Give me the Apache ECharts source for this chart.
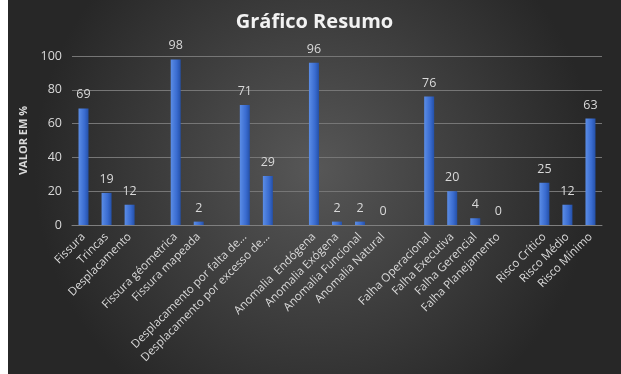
<!DOCTYPE html>
<html><head><meta charset="utf-8">
<script src="https://cdn.jsdelivr.net/npm/echarts@6/dist/echarts.min.js"></script>
<style>html,body{margin:0;padding:0;background:#fff;}#c{position:absolute;left:8px;top:0;width:613px;height:374px;}</style>
</head><body><div id="c"></div>
<script>
const categories = ["Fissura","Trincas","Desplacamento","","Fissura géometrica","Fissura mapeada","","Desplacamento por falta de...","Desplacamento por excesso de...","","Anomalia  Endógena","Anomalia Exógena","Anomalia Funcional","Anomalia Natural","","Falha Operacional","Falha Executiva","Falha Gerencial","Falha Planejamento","","Risco Crítico","Risco Médio","Risco Mínimo"];
const values = [69,19,12,null,98,2,null,71,29,null,96,2,2,0,null,76,20,4,0,null,25,12,63];
const yTicks = [0,20,40,60,80,100];

const chart = echarts.init(document.getElementById('c'));
chart.setOption({
  backgroundColor: new echarts.graphic.RadialGradient(0.5,0.45,0.75,[{offset:0,color:'#575757'},{offset:1,color:'#272727'}]),
  animation:false,
  title:{text:'Gráfico Resumo',left:'center',top:7,textStyle:{color:'#f2f2f2',fontSize:20,fontWeight:'bold',fontFamily:'Open Sans'}},
  grid:{left:64,right:19,top:56,bottom:149},
  xAxis:{type:'category',data:categories,
    axisLine:{lineStyle:{color:'#7f7f7f'}},axisTick:{show:false},
    axisLabel:{rotate:45,interval:0,color:'#d9d9d9',fontSize:11.5,fontFamily:'Open Sans',margin:10}},
  yAxis:{type:'value',min:yTicks[0],max:yTicks[yTicks.length-1],interval:20,
    name:'VALOR EM %',nameLocation:'middle',nameGap:34,nameRotate:90,
    nameTextStyle:{color:'#d9d9d9',fontSize:11,fontWeight:'bold',fontFamily:'Open Sans'},
    axisLine:{show:false},axisTick:{show:false},
    axisLabel:{color:'#d9d9d9',fontSize:12.5,fontFamily:'Open Sans',margin:10},
    splitLine:{lineStyle:{color:'#767676',width:1}}},
  series:[{type:'bar',data:values,barWidth:10,
    itemStyle:{color:new echarts.graphic.LinearGradient(0,0,1,0,[{offset:0,color:'#5b8de6'},{offset:0.6,color:'#3a6cd0'},{offset:1,color:'#2450a8'}])},
    label:{show:true,position:'top',distance:7,color:'#d9d9d9',fontSize:12.5,fontFamily:'Open Sans',
      formatter:p=>p.value==null?'':p.value}}]
});
</script></body></html>
